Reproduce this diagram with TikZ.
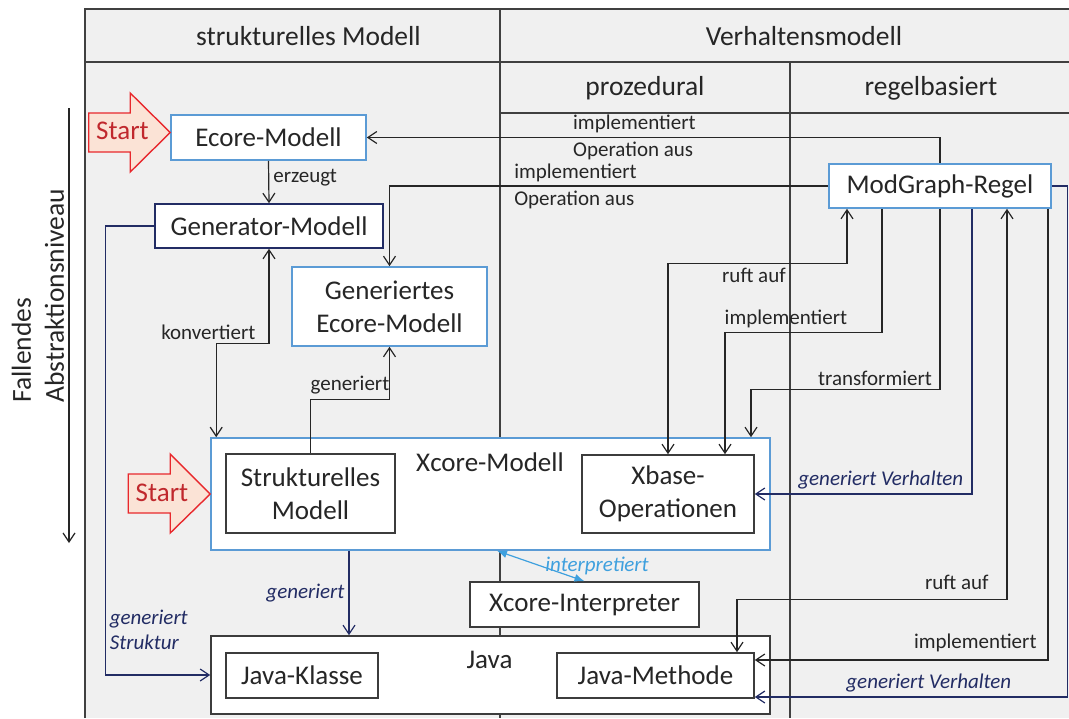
\documentclass[tikz,border=0pt]{standalone}
\usepackage{fontspec}
\setmainfont{Carlito}
\usepackage{xcolor}
\usetikzlibrary{arrows.meta}

\definecolor{bggray}{RGB}{240,240,240}
\definecolor{gridgray}{RGB}{64,64,64}
\definecolor{boxblue}{RGB}{91,155,213}
\definecolor{boxdark}{RGB}{60,60,60}
\definecolor{navy}{RGB}{34,44,100}
\definecolor{interblue}{RGB}{62,160,222}
\definecolor{startred}{RGB}{232,40,45}
\definecolor{startfill}{RGB}{251,227,214}
\definecolor{starttext}{RGB}{192,40,45}

\begin{document}
\begin{tikzpicture}[x=0.5pt,y=0.5pt,
  every node/.style={inner sep=0pt},
  grid/.style={draw=gridgray,line width=0.8pt},
  head/.style={font=\fontsize{13.75}{16.5}\selectfont,text=black!85},
  box/.style={fill=white,line width=0.8pt,align=center,
    font=\fontsize{13.5}{16.5}\selectfont,text=black!85},
  bluebox/.style={box,draw=boxblue},
  navybox/.style={box,draw=navy},
  darkbox/.style={box,draw=boxdark},
  boxlabel/.style={font=\fontsize{13.5}{16.5}\selectfont,text=black!85},
  lbl/.style={inner sep=2pt,font=\fontsize{10.5}{12.6}\selectfont,text=black!85},
  navylbl/.style={lbl,text=navy,font=\fontsize{10.5}{12.6}\selectfont\itshape},
  conn/.style={draw=black!85,line width=0.6pt,-{Straight Barb[length=4.5pt,width=6pt]}},
  biconn/.style={conn,{Straight Barb[length=4.5pt,width=6pt]}-{Straight Barb[length=4.5pt,width=6pt]}},
  navyconn/.style={conn,draw=navy},
  interp/.style={draw=interblue,line width=0.6pt,{Latex[length=5pt,width=4pt]}-{Latex[length=5pt,width=4pt]}},
  startarrow/.style={draw=startred,fill=startfill,line width=0.7pt},
  starttext/.style={font=\fontsize{13.5}{16.5}\selectfont,text=starttext},
]
\useasboundingbox (0,0) rectangle (1069,-718);

% table
\fill[bggray] (85,-9) rectangle (1069,-718);
\draw[grid] (85,-718) -- (85,-9) -- (1069,-9);
\draw[grid] (85,-62) -- (1069,-62);
\draw[grid] (500,-113) -- (1069,-113);
\draw[grid] (500,-9) -- (500,-718);
\draw[grid] (790,-62) -- (790,-718);
\node[head] (struktur) at (308.5,-36) {strukturelles Modell};
\node[head] (verhalten) at (804,-36) {Verhaltensmodell};
\node[head] (prozedural) at (645,-88) {prozedural};
\node[head] (regelbasiert) at (931,-88) {regelbasiert};

% abstraction axis
\coordinate (axtop) at (69,-108);
\coordinate (axbottom) at (69,-543);
\draw[conn] (axtop) -- (axbottom);
\node[head,rotate=90,align=left,anchor=west] (axislabel) at (38,-403) {Fallendes\\Abstraktionsniveau};

% models
\node[bluebox,minimum width=97.5pt,minimum height=22.5pt] (ecore) at (268.5,-137.5) {Ecore-Modell};
\node[navybox,minimum width=114pt,minimum height=22pt] (generator) at (269,-226) {Generator-Modell};
\node[bluebox,minimum width=97.5pt,minimum height=39.5pt] (generiertes) at (389.5,-306.5) {Generiertes\\Ecore-Modell};
\node[bluebox,minimum width=279.5pt,minimum height=56pt] (xcore) at (490.5,-494) {};
\node[boxlabel] (xcorelabel) at (490,-462) {Xcore-Modell};
\node[darkbox,minimum width=84.5pt,minimum height=39.5pt] (strukturell) at (310.5,-493.5) {Strukturelles\\Modell};
\node[darkbox,minimum width=86pt,minimum height=39pt] (xbase) at (668,-494) {Xbase-\\Operationen};
\node[darkbox,minimum width=114.5pt,minimum height=22.5pt] (interpreter) at (584.5,-604.5) {Xcore-Interpreter};
\node[darkbox,minimum width=279.5pt,minimum height=39pt] (java) at (490.5,-675) {};
\node[boxlabel] (javalabel) at (489.5,-660) {Java};
\node[darkbox,minimum width=76pt,minimum height=22.5pt] (klasse) at (302,-675.5) {Java-Klasse};
\node[darkbox,minimum width=98.5pt,minimum height=22.5pt] (methode) at (655.5,-675.5) {Java-Methode};
\node[bluebox,minimum width=111pt,minimum height=22pt] (regel) at (940,-186) {ModGraph-Regel};

% start markers
\draw[startarrow] ([yshift=2.5pt]ecore.west) -- ++(-40,39.5) -- ++(0,-20) -- ++(-41.5,0)
  -- ++(0,-39) -- ++(41.5,0) -- ++(0,-20) -- cycle;
\node[starttext] (start1) at (122.5,-131) {Start};
\draw[startarrow] (xcore.west) -- ++(-40,40) -- ++(0,-20) -- ++(-42,0)
  -- ++(0,-39) -- ++(42,0) -- ++(0,-20) -- cycle;
\node[starttext] (start2) at (162,-493) {Start};

% structure side
\draw[conn] (ecore.south) -- (generator.north) node[lbl,pos=0.4,anchor=west] {erzeugt};
\draw[biconn] (generator.south) -- ++(0,-95) node[lbl,anchor=south east,xshift=-4.5pt] {konvertiert}
  -| ([xshift=3pt]xcore.north west);
\draw[conn] (strukturell.north) -- ++(0,54) -| node[lbl,pos=0.25,above] {generiert} (generiertes.south);
\draw[navyconn] ([xshift=-70.75pt]xcore.south) -- ([xshift=-70.75pt]java.north)
  node[navylbl,midway,left] {generiert};
\draw[navyconn] (generator.west) -- ++(-49,0) |- (java.west)
  node[navylbl,pos=0.45,anchor=west,align=left] {generiert\\Struktur};
\draw[interp] (interpreter.north) -- ([xshift=3.25pt]xcore.south)
  node[lbl,midway,anchor=west,text=interblue,font=\fontsize{10.5}{12.6}\selectfont\itshape] {interpretiert};

% behaviour side
\draw[conn] (regel.north) |- (ecore.east)
  node[lbl,pos=0.824,anchor=south west] {implementiert}
  node[lbl,pos=0.824,anchor=north west] {Operation aus};
\draw[conn] (regel.west) -| (generiertes.north)
  node[lbl,pos=0.363,anchor=south west] {implementiert}
  node[lbl,pos=0.363,anchor=north west] {Operation aus};
\draw[biconn] ([xshift=-46.5pt]regel.south) -- ++(0,-55) -| (xbase.north)
  node[lbl,pos=0.26,anchor=north] {ruft auf};
\draw[conn] ([xshift=-29pt]regel.south) -- ++(0,-124) -| ([xshift=28.5pt]xbase.north)
  node[lbl,pos=0.306,above] {implementiert};
\draw[conn] (regel.south) -- ++(0,-181) -| ([xshift=130.25pt]xcore.north)
  node[lbl,pos=0.172,above] {transformiert};
\draw[navyconn] ([xshift=16pt]regel.south) |- (xbase.east)
  node[navylbl,pos=0.71,above] {generiert Verhalten};
\draw[biconn] ([xshift=33.5pt]regel.south) -- ++(0,-391) -| ([xshift=40.75pt]methode.north)
  node[lbl,pos=0.093,above,yshift=3pt] {ruft auf};
\draw[conn] ([xshift=54pt]regel.south) |- ([yshift=7.75pt]methode.east)
  node[lbl,pos=0.624,above,yshift=2pt] {implementiert};
\draw[navyconn] (regel.east) -- ++(16,0) |- ([yshift=-10.75pt]methode.east)
  node[navylbl,pos=0.722,above] {generiert Verhalten};
\end{tikzpicture}
\end{document}
